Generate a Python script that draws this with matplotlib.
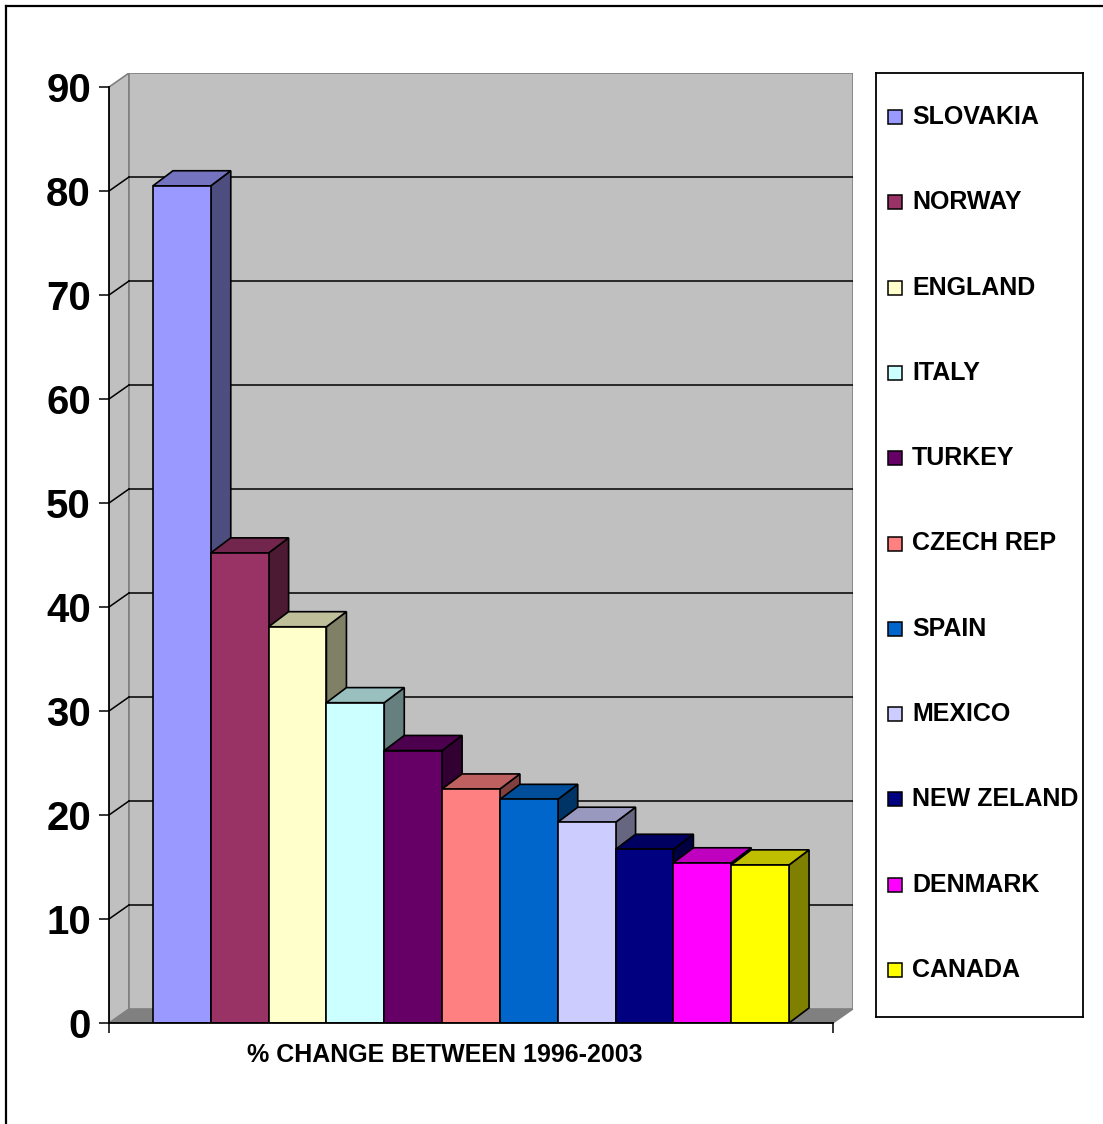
import matplotlib.pyplot as plt
import numpy as np
from matplotlib.patches import Polygon, Rectangle
from matplotlib.lines import Line2D

countries = ['SLOVAKIA', 'NORWAY', 'ENGLAND', 'ITALY', 'TURKEY', 'CZECH REP',
             'SPAIN', 'MEXICO', 'NEW ZELAND', 'DENMARK', 'CANADA']
values = [80.5, 45.2, 38.1, 30.8, 26.2, 22.5, 21.5, 19.3, 16.7, 15.4, 15.2]
colors = ['#9999FF', '#993366', '#FFFFCC', '#CCFFFF', '#660066', '#FF8080',
          '#0066CC', '#CCCCFF', '#000080', '#FF00FF', '#FFFF00']
yticks = [0, 10, 20, 30, 40, 50, 60, 70, 80, 90]
xlabel = '% CHANGE BETWEEN 1996-2003'

plt.rcParams['font.family'] = ['Liberation Sans', 'DejaVu Sans']
plt.rcParams['font.weight'] = 'bold'

W, H = 1103, 1124
fig = plt.figure(figsize=(W / 100, H / 100), dpi=100)

# plot area in pixel terms: front axis x=109, back wall right x=853, top y=73, floor y=1023
ax = fig.add_axes([109 / W, 1 - 1023 / H, (853 - 109) / W, (1023 - 73) / H])
xl, xr = -0.76, 11.76      # front floor extent in category units
ddx, ddy = 0.346, 1.35     # depth offset of walls
bdy = 1.45                 # depth offset of bar tops
ax.set_xlim(xl, xr + ddx)
ax.set_ylim(0, 90 + ddy)
ax.patch.set_visible(False)

wall = '#C0C0C0'
edge = '#808080'
# floor
ax.add_patch(Polygon([(xl, 0), (xr, 0), (xr + ddx, ddy), (xl + ddx, ddy)],
                     closed=True, facecolor='#808080', edgecolor=edge, lw=1, zorder=0.3))
# left wall
ax.add_patch(Polygon([(xl, 0), (xl, 90), (xl + ddx, 90 + ddy), (xl + ddx, ddy)],
                     closed=True, facecolor=wall, edgecolor=edge, lw=1.2, zorder=0.3))
# back wall
ax.add_patch(Rectangle((xl + ddx, ddy), xr - xl, 90, facecolor=wall,
                       edgecolor=edge, lw=1.2, zorder=0.3))
# gridlines on back wall and side wall
for v in yticks[1:-1]:
    ax.plot([xl + ddx, xr + ddx], [v + ddy, v + ddy], color='black', lw=1.1, zorder=0.4)
    ax.plot([xl, xl + ddx], [v, v + ddy], color='black', lw=1.1, zorder=0.4)

x = np.arange(len(values))
for i, (v, c) in enumerate(zip(values, colors)):
    rgb = np.array(plt.matplotlib.colors.to_rgb(c))
    side = rgb * 0.5
    top = rgb * 0.75
    ax.add_patch(Polygon([(i + 1, 0), (i + 1, v), (i + 1 + ddx, v + bdy), (i + 1 + ddx, bdy)],
                         closed=True, facecolor=side, edgecolor='black', lw=1.2, zorder=1 + i * 0.01))
    ax.add_patch(Polygon([(i, v), (i + 1, v), (i + 1 + ddx, v + bdy), (i + ddx, v + bdy)],
                         closed=True, facecolor=top, edgecolor='black', lw=1.2, zorder=1 + i * 0.01))
    ax.bar(x[i], v, width=1, align='edge', color=c, edgecolor='black', lw=1.2,
           zorder=1.005 + i * 0.01)

for s in ['top', 'right']:
    ax.spines[s].set_visible(False)
ax.spines['left'].set_bounds(0, 90)
ax.spines['bottom'].set_bounds(xl, xr)
ax.spines['left'].set_linewidth(1.3)
ax.spines['bottom'].set_linewidth(1.3)
ax.set_yticks(yticks)
ax.set_yticklabels([str(t) for t in yticks], fontsize=29, fontweight='bold')
ax.tick_params(axis='y', length=7.2, width=1.1, pad=5.8)
ax.set_xticks([xl, xr])
ax.set_xticklabels(['', ''])
ax.tick_params(axis='x', length=7.2, width=1.1)

fig.text(445 / W, 1 - 1055 / H, xlabel, ha='center', va='center',
         fontsize=18, fontweight='bold')

# legend box
lax = fig.add_axes([876 / W, 1 - 1017 / H, (1083 - 876) / W, (1017 - 73) / H])
lax.set_xlim(0, 207)
lax.set_ylim(944, 0)
lax.set_xticks([])
lax.set_yticks([])
for s in lax.spines.values():
    s.set_linewidth(1.3)
for i, (name, c) in enumerate(zip(countries, colors)):
    yc = 44 + i * 85.3
    lax.add_patch(Rectangle((12, yc - 7), 14, 14, facecolor=c, edgecolor='black', lw=1.1))
    lax.text(36, yc, name, ha='left', va='center', fontsize=18, fontweight='bold')

# outer chart border (top and left visible)
fig.add_artist(Line2D([6 / W, 6 / W], [0, 1 - 6 / H], color='black', lw=1.6))
fig.add_artist(Line2D([6 / W, 1], [1 - 6 / H, 1 - 6 / H], color='black', lw=1.6))

fig.savefig('out.png', dpi=100)
